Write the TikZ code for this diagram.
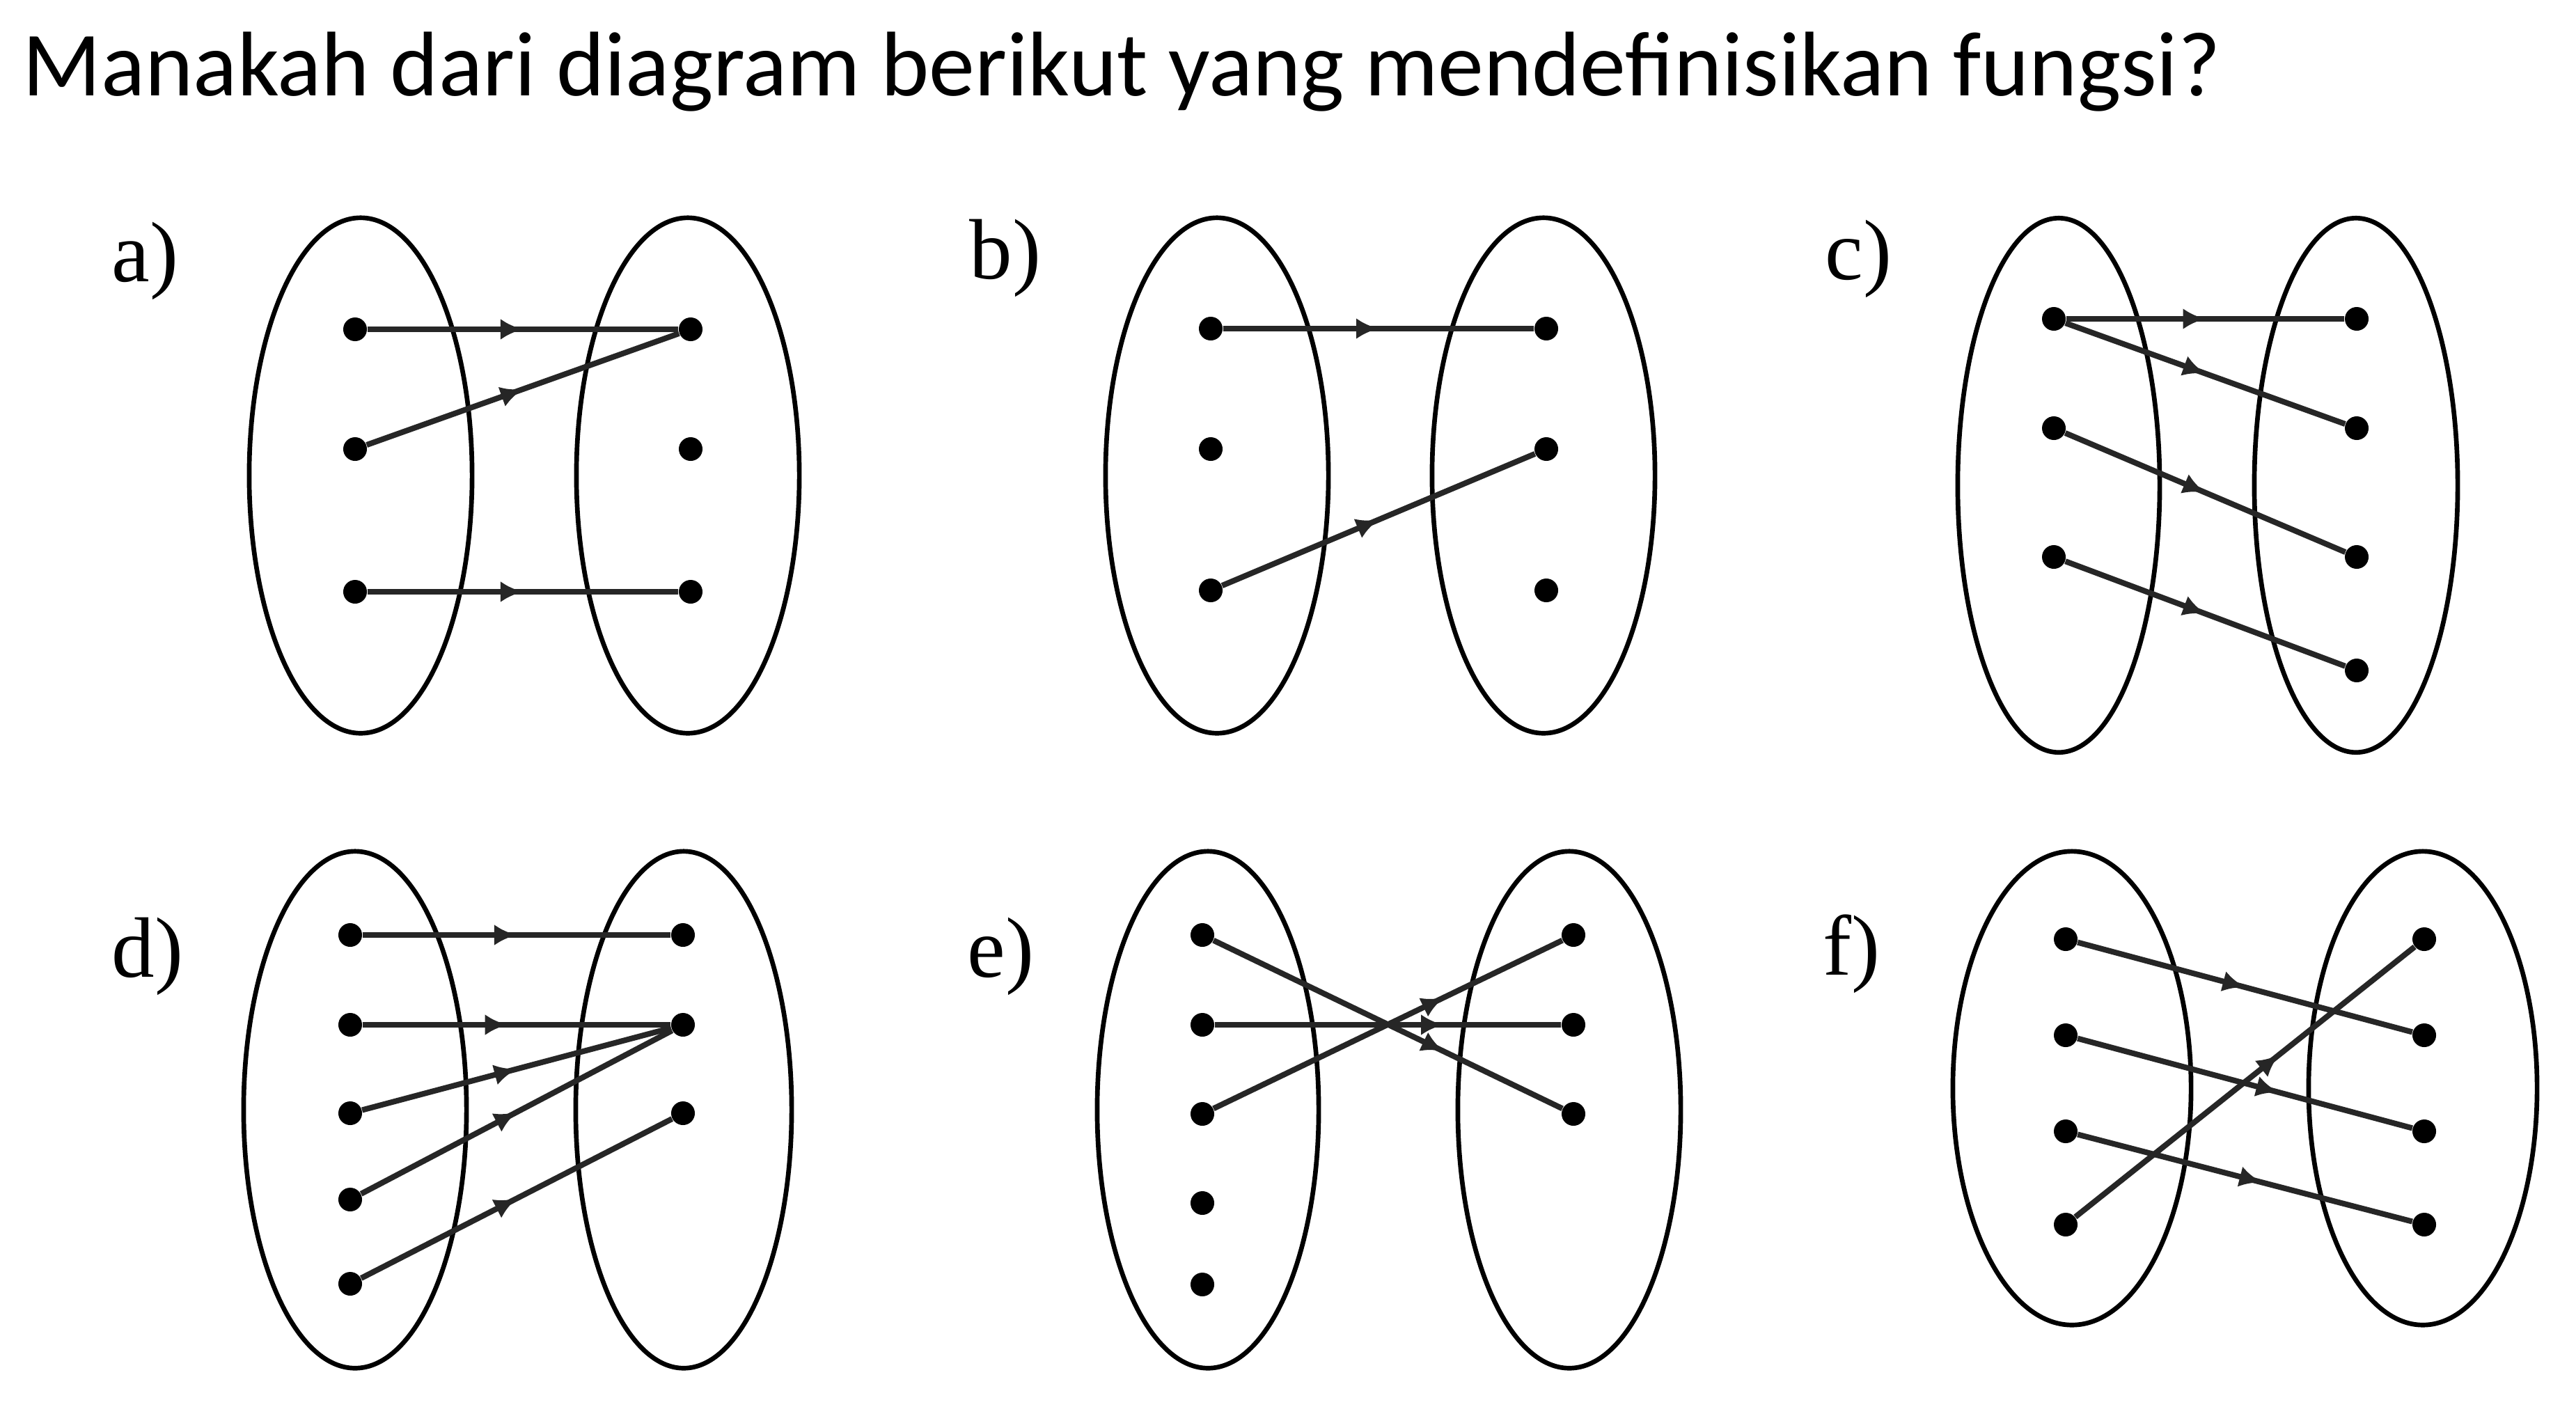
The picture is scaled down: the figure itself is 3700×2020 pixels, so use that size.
\documentclass[tikz,border=0pt]{standalone}
\usepackage{fontspec}
\setmainfont{Liberation Serif}
\newfontfamily\titlefont{Carlito}
\usetikzlibrary{arrows.meta,shapes.geometric,decorations.markings}

\begin{document}
\begin{tikzpicture}[
    x=0.01cm, y=-0.01cm,
    set/.style={draw, ellipse, line width=1.9pt, inner sep=0pt, minimum width=3.2cm, minimum height=7.4cm},
    dot/.style={circle, fill, inner sep=0pt, minimum size=0.34cm},
    mapto/.style={line width=2.3pt, draw=black!85, postaction={decorate, decoration={markings,
        mark=at position #1 with {\arrow{Latex[length=0.32cm, width=0.3cm]}}}}},
    mapto/.default=0.5,
    tag/.style={anchor=base west, inner sep=0pt, font=\fontsize{35}{42}\selectfont}
  ]
    \useasboundingbox (0,0) rectangle (3700,2020);

    % Question
    \node[anchor=base west, inner sep=0pt, font=\titlefont\fontsize{37.5}{45}\selectfont] (title) at (32,137)
      {Manakah dari diagram berikut yang mendefinisikan fungsi?};

    % a)
    \node[tag] (ta) at (160,404) {a)};
    \node[set] (aA) at (518,683) {};
    \node[set] (aB) at (988,683) {};
    \foreach \i/\y in {1/473,2/645,3/850} {
      \node[dot] (aa\i) at (510,\y) {};
      \node[dot] (ab\i) at (992,\y) {};
    }
    \draw[mapto] (aa1) -- (ab1);
    \draw[mapto] (aa2) -- (ab1);
    \draw[mapto] (aa3) -- (ab3);

    % b)
    \node[tag] (tb) at (1392,400) {b)};
    \node[set] (bA) at (1748,683) {};
    \node[set] (bB) at (2217,683) {};
    \foreach \i/\y in {1/472,2/645,3/848} {
      \node[dot] (ba\i) at (1739,\y) {};
      \node[dot] (bb\i) at (2221,\y) {};
    }
    \draw[mapto] (ba1) -- (bb1);
    \draw[mapto] (ba3) -- (bb2);

    % c)
    \node[tag] (tc) at (2621,401) {c)};
    \node[set, minimum width=2.9cm, minimum height=7.67cm] (cA) at (2957,697) {};
    \node[set, minimum width=2.92cm, minimum height=7.67cm] (cB) at (3384,697) {};
    \foreach \i/\y in {1/458,2/615,3/800} {
      \node[dot] (ca\i) at (2950,\y) {};
    }
    \foreach \i/\y in {1/458,2/615,3/800,4/963} {
      \node[dot] (cb\i) at (3385,\y) {};
    }
    \draw[mapto] (ca1) -- (cb1);
    \draw[mapto] (ca1) -- (cb2);
    \draw[mapto] (ca2) -- (cb3);
    \draw[mapto] (ca3) -- (cb4);

    % d)
    \node[tag] (td) at (160,1403) {d)};
    \node[set, minimum height=7.42cm] (dA) at (510,1594) {};
    \node[set, minimum width=3.1cm, minimum height=7.42cm] (dB) at (982,1594) {};
    \foreach \i/\y in {1/1343,2/1472,3/1599,4/1723,5/1844} {
      \node[dot] (da\i) at (503,\y) {};
    }
    \foreach \i/\y in {1/1343,2/1472,3/1599} {
      \node[dot] (db\i) at (981,\y) {};
    }
    \draw[mapto] (da1) -- (db1);
    \draw[mapto=0.47] (da2) -- (db2);
    \draw[mapto] (da3) -- (db2);
    \draw[mapto] (da4) -- (db2);
    \draw[mapto] (da5) -- (db3);

    % e)
    \node[tag] (te) at (1389,1403) {e)};
    \node[set, minimum width=3.18cm, minimum height=7.42cm] (eA) at (1735,1594) {};
    \node[set, minimum height=7.42cm] (eB) at (2254,1594) {};
    \foreach \i/\y in {1/1343,2/1472,3/1600,4/1728,5/1845} {
      \node[dot] (ea\i) at (1727,\y) {};
    }
    \foreach \i/\y in {1/1343,2/1472,3/1600} {
      \node[dot] (eb\i) at (2260,\y) {};
    }
    \draw[mapto=0.66] (ea1) -- (eb3);
    \draw[mapto=0.66] (ea2) -- (eb2);
    \draw[mapto=0.66] (ea3) -- (eb1);

    % f)
    \node[tag] (tf) at (2618,1400) {f)};
    \node[set, minimum width=3.42cm, minimum height=6.8cm] (fA) at (2976,1563) {};
    \node[set, minimum width=3.28cm, minimum height=6.8cm] (fB) at (3480,1563) {};
    \foreach \i/\y in {1/1349,2/1487,3/1625,4/1759} {
      \node[dot] (fa\i) at (2967,\y) {};
      \node[dot] (fb\i) at (3482,\y) {};
    }
    \draw[mapto] (fa1) -- (fb2);
    \draw[mapto=0.6] (fa2) -- (fb3);
    \draw[mapto=0.55] (fa3) -- (fb4);
    \draw[mapto=0.6] (fa4) -- (fb1);
  \end{tikzpicture}
\end{document}
